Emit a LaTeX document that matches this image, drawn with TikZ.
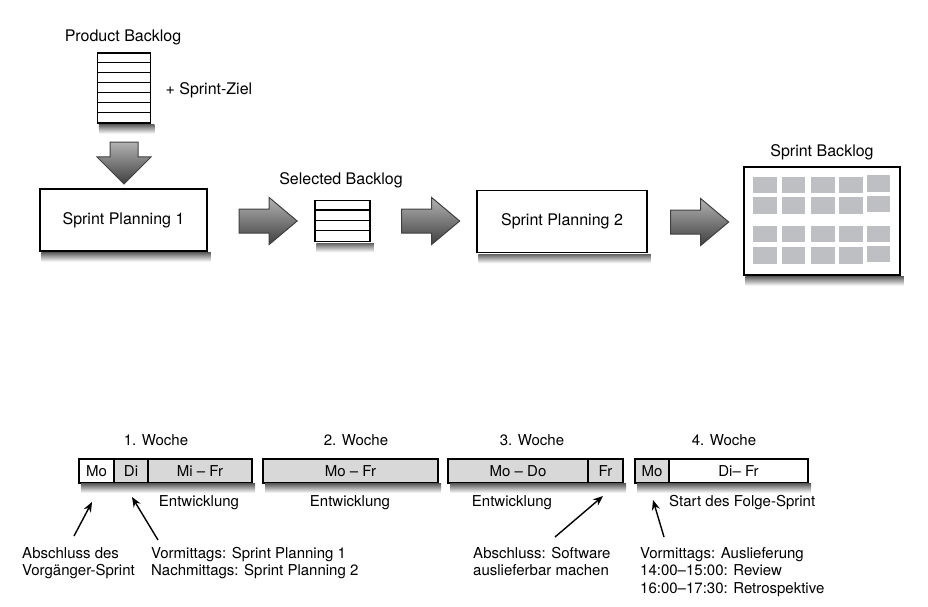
\documentclass[tikz,border=0pt]{standalone}
\usepackage{fontspec}
\setmainfont{TeX Gyre Heros}
\usetikzlibrary{shapes.arrows,positioning,arrows.meta}

\definecolor{daygray}{RGB}{216,216,216}
\definecolor{cellgray}{RGB}{190,191,195}

% shaded band under a box
\newcommand\underglow[1]{%
  \shade[top color=black!62,bottom color=white]
    ([shift={(2pt,-0.75pt)}]#1.south west) rectangle ([shift={(3pt,-10pt)}]#1.south east);}

\tikzset{
  phase/.style={draw,line width=1.5pt,fill=white,minimum height=62pt,font=\fontsize{16}{19}\selectfont},
  list/.style={draw,line width=1.5pt,fill=white,inner sep=0pt},
  title/.style={font=\fontsize{16}{19}\selectfont},
  fatarrow/.style={single arrow,draw=black!75,line width=1pt,inner xsep=0pt,inner ysep=11.5pt,outer sep=0pt,
    top color=black!30,bottom color=black!75,single arrow head extend=11.5pt,
    single arrow tip angle=80,minimum height=58pt},
  downarrow/.style={fatarrow,shape border rotate=270,minimum height=42pt,inner xsep=13.5pt,inner ysep=0pt,
    single arrow head extend=13pt,single arrow tip angle=90},
  week/.style={draw,line width=1.5pt,fill=daygray,minimum height=24pt,inner sep=0pt,outer sep=0pt},
  day/.style={draw,line width=1.1pt,fill=daygray,minimum height=24pt,inner sep=0pt,outer sep=0pt},
  note/.style={anchor=north west,align=left,inner sep=0pt},
  pointer/.style={-{Stealth[length=10pt,width=8pt]},line width=1.4pt}
}

\begin{document}
\begin{tikzpicture}[x=1pt,y=-1pt,font=\fontsize{15}{17.5}\selectfont]
\useasboundingbox (0,0) rectangle (928,607);

% product backlog
\node[title] (pbltitle) at (123,37) {Product Backlog};
\node[list,minimum width=53pt,minimum height=70pt] (pbl) at (124,88) {};
\foreach \i in {1,...,6}
  \draw[line width=1.1pt] ([yshift=-\i*10pt]pbl.north west) -- ([yshift=-\i*10pt]pbl.north east);
\node[title,anchor=west] (goal) at (162,90) {+ Sprint-Ziel};
\node[downarrow] (down) at (124,156) {};

% planning
\node[phase,minimum width=167pt] (plan1) at (123.5,220) {Sprint Planning 1};
\node[fatarrow] (arr1) at (261,221) {};
\node[title] (seltitle) at (341,180) {Selected Backlog};
\node[list,minimum width=55pt,minimum height=41pt] (selbl) at (342.5,221) {};
\foreach \i in {1,...,3}
  \draw[line width=1.1pt] ([yshift=-\i*10.25pt]selbl.north west) -- ([yshift=-\i*10.25pt]selbl.north east);
\node[fatarrow] (arr2) at (423.5,221) {};
\node[phase,minimum width=170pt] (plan2) at (562,221.5) {Sprint Planning 2};
\node[fatarrow] (arr3) at (692.5,222) {};

% sprint backlog
\node[title] (sprtitle) at (822,152) {Sprint Backlog};
\node[list,minimum width=156pt,minimum height=108pt] (sprbl) at (822,221) {};
\foreach \x in {753.3,781.7,811,839.3}
  \foreach \y in {176.7,197.3,225.7,247.3}
    \fill[cellgray] (\x,\y) rectangle ++(23.5,16.6);
\foreach \y in {175,195.7,225.7,245.7}
  \fill[cellgray] (867.3,\y) rectangle ++(22.7,16.6);

% weeks
\node (w1title) at (156,440) {1. Woche};
\node (w2title) at (356,440) {2. Woche};
\node (w3title) at (532,440) {3. Woche};
\node (w4title) at (724,440) {4. Woche};

\node[week,minimum width=173pt] (week1) at (165.5,471) {};
\node[day,fill=white,minimum width=35pt,anchor=west] (mo1) at (week1.west) {Mo};
\node[day,minimum width=34pt,right=0pt of mo1] (di1) {Di};
\node[day,minimum width=104pt,right=0pt of di1] (mf1) {Mi – Fr};

\node[week,minimum width=175pt] (week2) at (350.5,471) {Mo – Fr};

\node[week,minimum width=175pt] (week3) at (535.5,471) {};
\node[day,minimum width=140pt,anchor=west] (md3) at (week3.west) {Mo – Do};
\node[day,minimum width=35pt,right=0pt of md3] (fr3) {Fr};

\node[week,minimum width=173pt] (week4) at (721.5,471) {};
\node[day,minimum width=34pt,anchor=west] (mo4) at (week4.west) {Mo};
\node[day,fill=white,minimum width=139pt,right=0pt of mo4] (df4) {Di– Fr};

\node (dev1) at (199,503) {Entwicklung};
\node (dev2) at (350,503) {Entwicklung};
\node (dev3) at (512,503) {Entwicklung};
\node[anchor=west,inner sep=0pt] (start) at ([yshift=-20pt]df4.south west) {Start des Folge-Sprint};

% notes
\node[note] (n1) at (22,547) {Abschluss des\\Vorgänger-Sprint};
\node[note] (n2) at (151,547) {Vormittags: Sprint Planning 1\\Nachmittags: Sprint Planning 2};
\node[note] (n3) at (473,547) {Abschluss: Software\\auslieferbar machen};
\node[note] (n4) at (640,547) {Vormittags: Auslieferung\\14:00–15:00: Review\\16:00–17:30: Retrospektive};

\draw[pointer] ([xshift=52pt,yshift=11pt]n1.north west) -- ([xshift=-4.5pt,yshift=-19pt]mo1.south);
\draw[pointer] ([xshift=7pt,yshift=7pt]n2.north west) -- ([xshift=1pt,yshift=-14pt]di1.south);
\draw[pointer] ([xshift=82pt,yshift=10pt]n3.north west) -- ([xshift=-2.5pt,yshift=-13pt]fr3.south);
\draw[pointer] ([xshift=24pt,yshift=10pt]n4.north west) -- ([xshift=1pt,yshift=-17pt]mo4.south);

% shadows
\underglow{pbl}
\underglow{plan1}
\underglow{selbl}
\underglow{plan2}
\underglow{sprbl}
\underglow{week1}
\underglow{week2}
\underglow{week3}
\underglow{week4}
\end{tikzpicture}
\end{document}
